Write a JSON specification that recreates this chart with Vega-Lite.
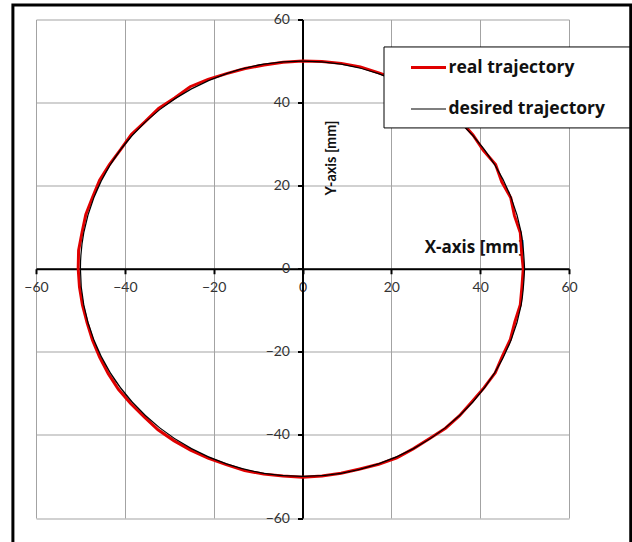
{
  "$schema": "https://vega.github.io/schema/vega-lite/v6.json",
  "width": 533,
  "height": 498.5,
  "autosize": {"type": "none"},
  "padding": {"left": 36, "top": 19.5, "right": 63, "bottom": 24},
  "background": "white",
  "config": {
    "view": {"stroke": null},
    "font": "Lato",
    "axis": {
      "grid": true,
      "gridColor": "#a3a3a3",
      "gridWidth": 1,
      "domainColor": "black",
      "domainWidth": 2,
      "tickColor": "black",
      "tickWidth": 2,
      "tickSize": 5,
      "labelFont": "Lato",
      "labelFontSize": 14,
      "labelColor": "#333333",
      "labelOverlap": false,
      "labelFlush": false,
      "labelBound": false,
      "titleFont": "Open Sans",
      "titleFontSize": 17,
      "titleFontWeight": "bold",
      "titleColor": "#111111"
    },
    "legend": {
      "orient": "none",
      "legendX": 348,
      "legendY": 27.5,
      "fillColor": null,
      "strokeColor": null,
      "padding": 1.5,
      "symbolType": "stroke",
      "symbolSize": 1225,
      "symbolOffset": 24,
      "labelOffset": 1,
      "rowPadding": 14,
      "labelFont": "Open Sans",
      "labelFontSize": 17.5,
      "labelFontWeight": "bold",
      "labelColor": "#111111",
      "labelLimit": 400,
      "title": null
    }
  },
  "datasets": {
    "real": [
      {"series": "real trajectory", "i": 0, "x": 49.70, "y": 0.00},
      {"series": "real trajectory", "i": 1, "x": 49.31, "y": 4.31},
      {"series": "real trajectory", "i": 2, "x": 49.04, "y": 8.65},
      {"series": "real trajectory", "i": 3, "x": 47.72, "y": 12.79},
      {"series": "real trajectory", "i": 4, "x": 46.89, "y": 17.07},
      {"series": "real trajectory", "i": 5, "x": 44.86, "y": 20.92},
      {"series": "real trajectory", "i": 6, "x": 43.47, "y": 25.10},
      {"series": "real trajectory", "i": 7, "x": 40.71, "y": 28.51},
      {"series": "real trajectory", "i": 8, "x": 38.38, "y": 32.20},
      {"series": "real trajectory", "i": 9, "x": 35.57, "y": 35.57},
      {"series": "real trajectory", "i": 10, "x": 32.14, "y": 38.30},
      {"series": "real trajectory", "i": 11, "x": 28.79, "y": 41.12},
      {"series": "real trajectory", "i": 12, "x": 25.05, "y": 43.39},
      {"series": "real trajectory", "i": 13, "x": 21.26, "y": 45.59},
      {"series": "real trajectory", "i": 14, "x": 17.17, "y": 47.17},
      {"series": "real trajectory", "i": 15, "x": 13.02, "y": 48.59},
      {"series": "real trajectory", "i": 16, "x": 8.72, "y": 49.44},
      {"series": "real trajectory", "i": 17, "x": 4.37, "y": 49.91},
      {"series": "real trajectory", "i": 18, "x": 0.00, "y": 50.00},
      {"series": "real trajectory", "i": 19, "x": -4.35, "y": 49.71},
      {"series": "real trajectory", "i": 20, "x": -8.65, "y": 49.04},
      {"series": "real trajectory", "i": 21, "x": -12.92, "y": 48.20},
      {"series": "real trajectory", "i": 22, "x": -17.10, "y": 46.98},
      {"series": "real trajectory", "i": 23, "x": -21.26, "y": 45.59},
      {"series": "real trajectory", "i": 24, "x": -25.30, "y": 43.82},
      {"series": "real trajectory", "i": 25, "x": -28.79, "y": 41.12},
      {"series": "real trajectory", "i": 26, "x": -32.40, "y": 38.61},
      {"series": "real trajectory", "i": 27, "x": -35.43, "y": 35.43},
      {"series": "real trajectory", "i": 28, "x": -38.53, "y": 32.33},
      {"series": "real trajectory", "i": 29, "x": -40.96, "y": 28.68},
      {"series": "real trajectory", "i": 30, "x": -43.47, "y": 25.10},
      {"series": "real trajectory", "i": 31, "x": -45.68, "y": 21.30},
      {"series": "real trajectory", "i": 32, "x": -47.27, "y": 17.20},
      {"series": "real trajectory", "i": 33, "x": -48.78, "y": 13.07},
      {"series": "real trajectory", "i": 34, "x": -49.63, "y": 8.75},
      {"series": "real trajectory", "i": 35, "x": -50.41, "y": 4.41},
      {"series": "real trajectory", "i": 36, "x": -50.50, "y": 0.00},
      {"series": "real trajectory", "i": 37, "x": -50.21, "y": -4.39},
      {"series": "real trajectory", "i": 38, "x": -49.54, "y": -8.73},
      {"series": "real trajectory", "i": 39, "x": -48.49, "y": -12.99},
      {"series": "real trajectory", "i": 40, "x": -47.27, "y": -17.20},
      {"series": "real trajectory", "i": 41, "x": -45.68, "y": -21.30},
      {"series": "real trajectory", "i": 42, "x": -43.73, "y": -25.25},
      {"series": "real trajectory", "i": 43, "x": -41.45, "y": -29.02},
      {"series": "real trajectory", "i": 44, "x": -38.69, "y": -32.46},
      {"series": "real trajectory", "i": 45, "x": -35.64, "y": -35.64},
      {"series": "real trajectory", "i": 46, "x": -32.53, "y": -38.76},
      {"series": "real trajectory", "i": 47, "x": -28.97, "y": -41.37},
      {"series": "real trajectory", "i": 48, "x": -25.20, "y": -43.65},
      {"series": "real trajectory", "i": 49, "x": -21.26, "y": -45.59},
      {"series": "real trajectory", "i": 50, "x": -17.17, "y": -47.17},
      {"series": "real trajectory", "i": 51, "x": -13.02, "y": -48.59},
      {"series": "real trajectory", "i": 52, "x": -8.72, "y": -49.44},
      {"series": "real trajectory", "i": 53, "x": -4.37, "y": -49.91},
      {"series": "real trajectory", "i": 54, "x": 0.00, "y": -50.20},
      {"series": "real trajectory", "i": 55, "x": 4.37, "y": -49.91},
      {"series": "real trajectory", "i": 56, "x": 8.68, "y": -49.24},
      {"series": "real trajectory", "i": 57, "x": 12.92, "y": -48.20},
      {"series": "real trajectory", "i": 58, "x": 17.14, "y": -47.08},
      {"series": "real trajectory", "i": 59, "x": 21.22, "y": -45.50},
      {"series": "real trajectory", "i": 60, "x": 25.00, "y": -43.30},
      {"series": "real trajectory", "i": 61, "x": 28.62, "y": -40.88},
      {"series": "real trajectory", "i": 62, "x": 32.20, "y": -38.38},
      {"series": "real trajectory", "i": 63, "x": 35.36, "y": -35.36},
      {"series": "real trajectory", "i": 64, "x": 38.15, "y": -32.01},
      {"series": "real trajectory", "i": 65, "x": 40.88, "y": -28.62},
      {"series": "real trajectory", "i": 66, "x": 43.39, "y": -25.05},
      {"series": "real trajectory", "i": 67, "x": 45.04, "y": -21.00},
      {"series": "real trajectory", "i": 68, "x": 46.80, "y": -17.03},
      {"series": "real trajectory", "i": 69, "x": 47.81, "y": -12.81},
      {"series": "real trajectory", "i": 70, "x": 49.04, "y": -8.65},
      {"series": "real trajectory", "i": 71, "x": 49.41, "y": -4.32},
      {"series": "real trajectory", "i": 72, "x": 49.70, "y": 0.00}
    ],
    "desired": [
      {"series": "desired trajectory", "i": 0, "x": 50.00, "y": 0.00},
      {"series": "desired trajectory", "i": 1, "x": 49.24, "y": 8.68},
      {"series": "desired trajectory", "i": 2, "x": 46.98, "y": 17.10},
      {"series": "desired trajectory", "i": 3, "x": 43.30, "y": 25.00},
      {"series": "desired trajectory", "i": 4, "x": 38.30, "y": 32.14},
      {"series": "desired trajectory", "i": 5, "x": 32.14, "y": 38.30},
      {"series": "desired trajectory", "i": 6, "x": 25.00, "y": 43.30},
      {"series": "desired trajectory", "i": 7, "x": 17.10, "y": 46.98},
      {"series": "desired trajectory", "i": 8, "x": 8.68, "y": 49.24},
      {"series": "desired trajectory", "i": 9, "x": 0.00, "y": 50.00},
      {"series": "desired trajectory", "i": 10, "x": -8.68, "y": 49.24},
      {"series": "desired trajectory", "i": 11, "x": -17.10, "y": 46.98},
      {"series": "desired trajectory", "i": 12, "x": -25.00, "y": 43.30},
      {"series": "desired trajectory", "i": 13, "x": -32.14, "y": 38.30},
      {"series": "desired trajectory", "i": 14, "x": -38.30, "y": 32.14},
      {"series": "desired trajectory", "i": 15, "x": -43.30, "y": 25.00},
      {"series": "desired trajectory", "i": 16, "x": -46.98, "y": 17.10},
      {"series": "desired trajectory", "i": 17, "x": -49.24, "y": 8.68},
      {"series": "desired trajectory", "i": 18, "x": -50.00, "y": 0.00},
      {"series": "desired trajectory", "i": 19, "x": -49.24, "y": -8.68},
      {"series": "desired trajectory", "i": 20, "x": -46.98, "y": -17.10},
      {"series": "desired trajectory", "i": 21, "x": -43.30, "y": -25.00},
      {"series": "desired trajectory", "i": 22, "x": -38.30, "y": -32.14},
      {"series": "desired trajectory", "i": 23, "x": -32.14, "y": -38.30},
      {"series": "desired trajectory", "i": 24, "x": -25.00, "y": -43.30},
      {"series": "desired trajectory", "i": 25, "x": -17.10, "y": -46.98},
      {"series": "desired trajectory", "i": 26, "x": -8.68, "y": -49.24},
      {"series": "desired trajectory", "i": 27, "x": 0.00, "y": -50.00},
      {"series": "desired trajectory", "i": 28, "x": 8.68, "y": -49.24},
      {"series": "desired trajectory", "i": 29, "x": 17.10, "y": -46.98},
      {"series": "desired trajectory", "i": 30, "x": 25.00, "y": -43.30},
      {"series": "desired trajectory", "i": 31, "x": 32.14, "y": -38.30},
      {"series": "desired trajectory", "i": 32, "x": 38.30, "y": -32.14},
      {"series": "desired trajectory", "i": 33, "x": 43.30, "y": -25.00},
      {"series": "desired trajectory", "i": 34, "x": 46.98, "y": -17.10},
      {"series": "desired trajectory", "i": 35, "x": 49.24, "y": -8.68},
      {"series": "desired trajectory", "i": 36, "x": 50.00, "y": 0.00}
    ]
  },
  "layer": [
    {
      "data": {"name": "real"},
      "mark": {"type": "line", "interpolate": "linear"},
      "encoding": {
        "x": {
          "field": "x", "type": "quantitative",
          "scale": {"domain": [-60, 60], "nice": false, "zero": false},
          "axis": {
            "values": [-60, -40, -20, 0, 20, 40, 60],
            "orient": "bottom",
            "offset": -249.25,
            "labelPadding": 7,
            "title": "X-axis [mm]",
            "titleAlign": "center",
            "titleBaseline": "middle",
            "titleX": 438,
            "titleY": -21,
            "titleAnchor": null
          }
        },
        "y": {
          "field": "y", "type": "quantitative",
          "scale": {"domain": [-60, 60], "nice": false, "zero": false},
          "axis": {
            "values": [-60, -40, -20, 0, 20, 40, 60],
            "orient": "left",
            "offset": -266.5,
            "labelPadding": 8,
            "title": "Y-axis [mm]",
            "titleFont": "Lato",
            "titleFontSize": 14.5,
            "titleAngle": 270,
            "titleAlign": "left",
            "titleBaseline": "middle",
            "titleX": 29,
            "titleY": 175.5,
            "titleAnchor": null
          }
        },
        "order": {"field": "i", "type": "quantitative"},
        "color": {
          "field": "series", "type": "nominal",
          "scale": {"domain": ["real trajectory", "desired trajectory"], "range": ["#e00000", "#000000"]}
        },
        "strokeWidth": {
          "field": "series", "type": "nominal",
          "scale": {"domain": ["real trajectory", "desired trajectory"], "range": [3, 1.2]}
        }
      }
    },
    {
      "data": {"name": "desired"},
      "mark": {"type": "line", "interpolate": "catmull-rom"},
      "encoding": {
        "x": {"field": "x", "type": "quantitative"},
        "y": {"field": "y", "type": "quantitative"},
        "order": {"field": "i", "type": "quantitative"},
        "color": {"field": "series", "type": "nominal"},
        "strokeWidth": {"field": "series", "type": "nominal"}
      }
    },
    {
      "data": {"values": [{}]},
      "mark": {"type": "rect", "fill": "white", "stroke": "black", "strokeWidth": 1},
      "encoding": {
        "x": {"datum": 18.35, "type": "quantitative"},
        "x2": {"datum": 73.9},
        "y": {"datum": 53.39, "type": "quantitative"},
        "y2": {"datum": 33.9}
      }
    },
    {
      "data": {"values": [{}]},
      "mark": {"type": "rect", "fill": null, "fillOpacity": 0, "stroke": "black", "strokeWidth": 3},
      "encoding": {
        "x": {"datum": -65.2, "type": "quantitative"},
        "x2": {"datum": 73.9},
        "y": {"datum": 63.5, "type": "quantitative"},
        "y2": {"datum": -70}
      }
    }
  ]
}
